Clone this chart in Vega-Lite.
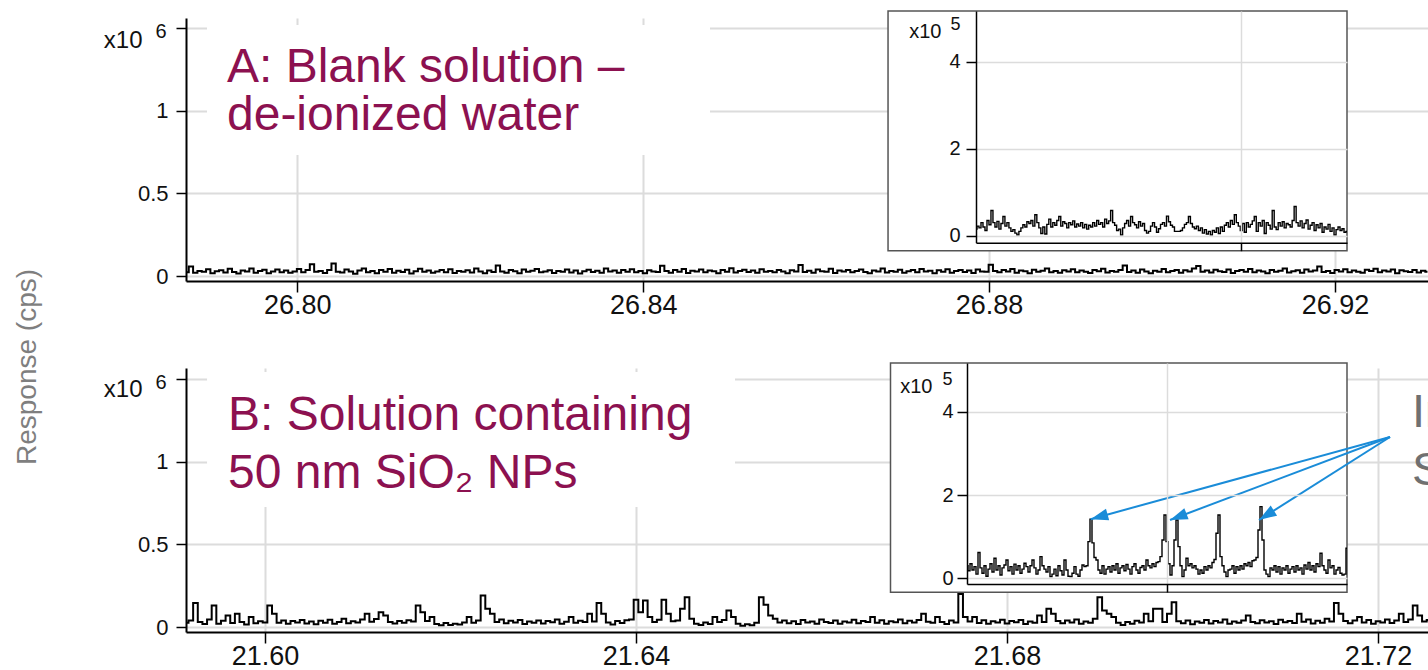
{
"$schema": "https://vega.github.io/schema/vega-lite/v6.json",
"width": 1428, "height": 670, "autosize": {"type": "none"}, "padding": 0, "background": "white",
"config": {"view": {"stroke": null}, "axis": {"domainColor": "black", "tickColor": "black", "gridColor": "#dcdcdc", "labelColor": "#111111", "labelOverlap": false, "labelFlush": false, "titleFontWeight": "normal"}},
"datasets": {
"a": [
{"t":26.7872,"r":0.022},{"t":26.7877,"r":0.058},{"t":26.7882,"r":0.019},{"t":26.7887,"r":0.031},{"t":26.7892,"r":0.026},{"t":26.7897,"r":0.041},{"t":26.7902,"r":0.017},{"t":26.7907,"r":0.029},{"t":26.7912,"r":0.035},{"t":26.7917,"r":0.021},{"t":26.7922,"r":0.044},{"t":26.7927,"r":0.024},
{"t":26.7932,"r":0.015},{"t":26.7937,"r":0.033},{"t":26.7942,"r":0.027},{"t":26.7947,"r":0.046},{"t":26.7952,"r":0.02},{"t":26.7957,"r":0.03},{"t":26.7962,"r":0.038},{"t":26.7967,"r":0.016},{"t":26.7972,"r":0.028},{"t":26.7977,"r":0.04},{"t":26.7982,"r":0.023},{"t":26.7987,"r":0.034},
{"t":26.7992,"r":0.019},{"t":26.7997,"r":0.027},{"t":26.8002,"r":0.043},{"t":26.8007,"r":0.022},{"t":26.8012,"r":0.036},{"t":26.8017,"r":0.071},{"t":26.8022,"r":0.025},{"t":26.8027,"r":0.031},{"t":26.8032,"r":0.018},{"t":26.8037,"r":0.037},{"t":26.8042,"r":0.075},{"t":26.8047,"r":0.026},
{"t":26.8052,"r":0.021},{"t":26.8057,"r":0.039},{"t":26.8062,"r":0.028},{"t":26.8067,"r":0.014},{"t":26.8072,"r":0.033},{"t":26.8077,"r":0.045},{"t":26.8082,"r":0.023},{"t":26.8087,"r":0.03},{"t":26.8092,"r":0.017},{"t":26.8097,"r":0.036},{"t":26.8102,"r":0.026},{"t":26.8107,"r":0.042},
{"t":26.8112,"r":0.02},{"t":26.8117,"r":0.032},{"t":26.8122,"r":0.024},{"t":26.8127,"r":0.038},{"t":26.8132,"r":0.015},{"t":26.8137,"r":0.029},{"t":26.8142,"r":0.044},{"t":26.8147,"r":0.025},{"t":26.8152,"r":0.034},{"t":26.8157,"r":0.019},{"t":26.8162,"r":0.027},{"t":26.8167,"r":0.037},
{"t":26.8172,"r":0.023},{"t":26.8177,"r":0.041},{"t":26.8182,"r":0.018},{"t":26.8187,"r":0.03},{"t":26.8192,"r":0.026},{"t":26.8197,"r":0.035},{"t":26.8202,"r":0.021},{"t":26.8207,"r":0.046},{"t":26.8212,"r":0.028},{"t":26.8217,"r":0.016},{"t":26.8222,"r":0.033},{"t":26.8227,"r":0.024},
{"t":26.8232,"r":0.064},{"t":26.8237,"r":0.027},{"t":26.8242,"r":0.02},{"t":26.8247,"r":0.036},{"t":26.8252,"r":0.029},{"t":26.8257,"r":0.017},{"t":26.8262,"r":0.039},{"t":26.8267,"r":0.025},{"t":26.8272,"r":0.032},{"t":26.8277,"r":0.043},{"t":26.8282,"r":0.022},{"t":26.8287,"r":0.028},
{"t":26.8292,"r":0.035},{"t":26.8297,"r":0.018},{"t":26.8302,"r":0.031},{"t":26.8307,"r":0.026},{"t":26.8312,"r":0.04},{"t":26.8317,"r":0.021},{"t":26.8322,"r":0.034},{"t":26.8327,"r":0.015},{"t":26.8332,"r":0.029},{"t":26.8337,"r":0.038},{"t":26.8342,"r":0.024},{"t":26.8347,"r":0.032},
{"t":26.8352,"r":0.02},{"t":26.8357,"r":0.045},{"t":26.8362,"r":0.027},{"t":26.8367,"r":0.033},{"t":26.8372,"r":0.019},{"t":26.8377,"r":0.036},{"t":26.8382,"r":0.025},{"t":26.8387,"r":0.041},{"t":26.8392,"r":0.022},{"t":26.8397,"r":0.03},{"t":26.8402,"r":0.016},{"t":26.8407,"r":0.035},
{"t":26.8412,"r":0.028},{"t":26.8417,"r":0.024},{"t":26.8422,"r":0.062},{"t":26.8427,"r":0.031},{"t":26.8432,"r":0.02},{"t":26.8437,"r":0.037},{"t":26.8442,"r":0.026},{"t":26.8447,"r":0.043},{"t":26.8452,"r":0.018},{"t":26.8457,"r":0.032},{"t":26.8462,"r":0.027},{"t":26.8467,"r":0.039},
{"t":26.8472,"r":0.023},{"t":26.8477,"r":0.034},{"t":26.8482,"r":0.029},{"t":26.8487,"r":0.017},{"t":26.8492,"r":0.036},{"t":26.8497,"r":0.025},{"t":26.8502,"r":0.047},{"t":26.8507,"r":0.021},{"t":26.8512,"r":0.03},{"t":26.8517,"r":0.038},{"t":26.8522,"r":0.024},{"t":26.8527,"r":0.033},
{"t":26.8532,"r":0.019},{"t":26.8537,"r":0.041},{"t":26.8542,"r":0.026},{"t":26.8547,"r":0.031},{"t":26.8552,"r":0.022},{"t":26.8557,"r":0.037},{"t":26.8562,"r":0.028},{"t":26.8567,"r":0.016},{"t":26.8572,"r":0.035},{"t":26.8577,"r":0.027},{"t":26.8582,"r":0.066},{"t":26.8587,"r":0.024},
{"t":26.8592,"r":0.032},{"t":26.8597,"r":0.02},{"t":26.8602,"r":0.039},{"t":26.8607,"r":0.029},{"t":26.8612,"r":0.025},{"t":26.8617,"r":0.044},{"t":26.8622,"r":0.018},{"t":26.8627,"r":0.033},{"t":26.8632,"r":0.027},{"t":26.8637,"r":0.036},{"t":26.8642,"r":0.022},{"t":26.8647,"r":0.03},
{"t":26.8652,"r":0.04},{"t":26.8657,"r":0.024},{"t":26.8662,"r":0.017},{"t":26.8667,"r":0.034},{"t":26.8672,"r":0.028},{"t":26.8677,"r":0.045},{"t":26.8682,"r":0.021},{"t":26.8687,"r":0.031},{"t":26.8692,"r":0.026},{"t":26.8697,"r":0.038},{"t":26.8702,"r":0.019},{"t":26.8707,"r":0.029},
{"t":26.8712,"r":0.036},{"t":26.8717,"r":0.023},{"t":26.8722,"r":0.042},{"t":26.8727,"r":0.027},{"t":26.8732,"r":0.032},{"t":26.8737,"r":0.016},{"t":26.8742,"r":0.035},{"t":26.8747,"r":0.025},{"t":26.8752,"r":0.041},{"t":26.8757,"r":0.02},{"t":26.8762,"r":0.03},{"t":26.8767,"r":0.037},
{"t":26.8772,"r":0.024},{"t":26.8777,"r":0.033},{"t":26.8782,"r":0.018},{"t":26.8787,"r":0.039},{"t":26.8792,"r":0.028},{"t":26.8797,"r":0.026},{"t":26.8802,"r":0.068},{"t":26.8807,"r":0.031},{"t":26.8812,"r":0.022},{"t":26.8817,"r":0.036},{"t":26.8822,"r":0.027},{"t":26.8827,"r":0.043},
{"t":26.8832,"r":0.02},{"t":26.8837,"r":0.034},{"t":26.8842,"r":0.029},{"t":26.8847,"r":0.017},{"t":26.8852,"r":0.038},{"t":26.8857,"r":0.025},{"t":26.8862,"r":0.032},{"t":26.8867,"r":0.046},{"t":26.8872,"r":0.023},{"t":26.8877,"r":0.03},{"t":26.8882,"r":0.019},{"t":26.8887,"r":0.035},
{"t":26.8892,"r":0.027},{"t":26.8897,"r":0.041},{"t":26.8902,"r":0.022},{"t":26.8907,"r":0.033},{"t":26.8912,"r":0.026},{"t":26.8917,"r":0.018},{"t":26.8922,"r":0.037},{"t":26.8927,"r":0.029},{"t":26.8932,"r":0.044},{"t":26.8937,"r":0.021},{"t":26.8942,"r":0.031},{"t":26.8947,"r":0.025},
{"t":26.8952,"r":0.036},{"t":26.8957,"r":0.063},{"t":26.8962,"r":0.024},{"t":26.8967,"r":0.034},{"t":26.8972,"r":0.02},{"t":26.8977,"r":0.039},{"t":26.8982,"r":0.028},{"t":26.8987,"r":0.016},{"t":26.8992,"r":0.032},{"t":26.8997,"r":0.026},{"t":26.9002,"r":0.042},{"t":26.9007,"r":0.023},
{"t":26.9012,"r":0.03},{"t":26.9017,"r":0.037},{"t":26.9022,"r":0.019},{"t":26.9027,"r":0.035},{"t":26.9032,"r":0.027},{"t":26.9037,"r":0.045},{"t":26.9042,"r":0.061},{"t":26.9047,"r":0.025},{"t":26.9052,"r":0.033},{"t":26.9057,"r":0.021},{"t":26.9062,"r":0.038},{"t":26.9067,"r":0.029},
{"t":26.9072,"r":0.024},{"t":26.9077,"r":0.04},{"t":26.9082,"r":0.018},{"t":26.9087,"r":0.031},{"t":26.9092,"r":0.036},{"t":26.9097,"r":0.026},{"t":26.9102,"r":0.043},{"t":26.9107,"r":0.022},{"t":26.9112,"r":0.034},{"t":26.9117,"r":0.028},{"t":26.9122,"r":0.017},{"t":26.9127,"r":0.037},
{"t":26.9132,"r":0.025},{"t":26.9137,"r":0.032},{"t":26.9142,"r":0.046},{"t":26.9147,"r":0.021},{"t":26.9152,"r":0.029},{"t":26.9157,"r":0.035},{"t":26.9162,"r":0.02},{"t":26.9167,"r":0.039},{"t":26.9172,"r":0.027},{"t":26.9177,"r":0.033},{"t":26.9182,"r":0.058},{"t":26.9187,"r":0.024},
{"t":26.9192,"r":0.03},{"t":26.9197,"r":0.018},{"t":26.9202,"r":0.036},{"t":26.9207,"r":0.028},{"t":26.9212,"r":0.041},{"t":26.9217,"r":0.023},{"t":26.9222,"r":0.034},{"t":26.9227,"r":0.026},{"t":26.9232,"r":0.019},{"t":26.9237,"r":0.038},{"t":26.9242,"r":0.031},{"t":26.9247,"r":0.044},
{"t":26.9252,"r":0.022},{"t":26.9257,"r":0.033},{"t":26.9262,"r":0.027},{"t":26.9267,"r":0.04},{"t":26.9272,"r":0.016},{"t":26.9277,"r":0.035},{"t":26.9282,"r":0.029},{"t":26.9287,"r":0.024},{"t":26.9292,"r":0.037},{"t":26.9297,"r":0.021},{"t":26.9302,"r":0.032},{"t":26.9307,"r":0.026}
],
"b": [
{"t":21.5915,"r":0.025},{"t":21.592,"r":0.04},{"t":21.5925,"r":0.145},{"t":21.593,"r":0.03},{"t":21.5935,"r":0.018},{"t":21.594,"r":0.045},{"t":21.5945,"r":0.13},{"t":21.595,"r":0.02},{"t":21.5955,"r":0.038},{"t":21.596,"r":0.07},
{"t":21.5965,"r":0.024},{"t":21.597,"r":0.08},{"t":21.5975,"r":0.03},{"t":21.598,"r":0.015},{"t":21.5985,"r":0.06},{"t":21.599,"r":0.022},{"t":21.5995,"r":0.035},{"t":21.6,"r":0.028},{"t":21.6005,"r":0.13},{"t":21.601,"r":0.08},
{"t":21.6015,"r":0.026},{"t":21.602,"r":0.04},{"t":21.6025,"r":0.019},{"t":21.603,"r":0.036},{"t":21.6035,"r":0.027},{"t":21.604,"r":0.042},{"t":21.6045,"r":0.021},{"t":21.605,"r":0.033},{"t":21.6055,"r":0.017},{"t":21.606,"r":0.038},
{"t":21.6065,"r":0.025},{"t":21.607,"r":0.044},{"t":21.6075,"r":0.02},{"t":21.608,"r":0.031},{"t":21.6085,"r":0.05},{"t":21.609,"r":0.023},{"t":21.6095,"r":0.035},{"t":21.61,"r":0.028},{"t":21.6105,"r":0.046},{"t":21.611,"r":0.08},
{"t":21.6115,"r":0.032},{"t":21.612,"r":0.048},{"t":21.6125,"r":0.09},{"t":21.613,"r":0.07},{"t":21.6135,"r":0.03},{"t":21.614,"r":0.021},{"t":21.6145,"r":0.037},{"t":21.615,"r":0.026},{"t":21.6155,"r":0.041},{"t":21.616,"r":0.033},
{"t":21.6165,"r":0.13},{"t":21.617,"r":0.09},{"t":21.6175,"r":0.036},{"t":21.618,"r":0.06},{"t":21.6185,"r":0.018},{"t":21.619,"r":0.01},{"t":21.6195,"r":0.024},{"t":21.62,"r":0.012},{"t":21.6205,"r":0.02},{"t":21.621,"r":0.015},
{"t":21.6215,"r":0.028},{"t":21.622,"r":0.06},{"t":21.6225,"r":0.025},{"t":21.623,"r":0.04},{"t":21.6235,"r":0.19},{"t":21.624,"r":0.11},{"t":21.6245,"r":0.08},{"t":21.625,"r":0.03},{"t":21.6255,"r":0.045},{"t":21.626,"r":0.022},
{"t":21.6265,"r":0.038},{"t":21.627,"r":0.027},{"t":21.6275,"r":0.043},{"t":21.628,"r":0.018},{"t":21.6285,"r":0.034},{"t":21.629,"r":0.026},{"t":21.6295,"r":0.04},{"t":21.63,"r":0.021},{"t":21.6305,"r":0.036},{"t":21.631,"r":0.029},
{"t":21.6315,"r":0.045},{"t":21.632,"r":0.02},{"t":21.6325,"r":0.032},{"t":21.633,"r":0.06},{"t":21.6335,"r":0.025},{"t":21.634,"r":0.038},{"t":21.6345,"r":0.03},{"t":21.635,"r":0.08},{"t":21.6355,"r":0.034},{"t":21.636,"r":0.145},
{"t":21.6365,"r":0.08},{"t":21.637,"r":0.028},{"t":21.6375,"r":0.015},{"t":21.638,"r":0.036},{"t":21.6385,"r":0.024},{"t":21.639,"r":0.041},{"t":21.6395,"r":0.045},{"t":21.64,"r":0.165},{"t":21.6405,"r":0.09},{"t":21.641,"r":0.16},
{"t":21.6415,"r":0.06},{"t":21.642,"r":0.03},{"t":21.6425,"r":0.044},{"t":21.643,"r":0.165},{"t":21.6435,"r":0.08},{"t":21.644,"r":0.035},{"t":21.6445,"r":0.04},{"t":21.645,"r":0.11},{"t":21.6455,"r":0.18},{"t":21.646,"r":0.05},
{"t":21.6465,"r":0.02},{"t":21.647,"r":0.012},{"t":21.6475,"r":0.027},{"t":21.648,"r":0.018},{"t":21.6485,"r":0.06},{"t":21.649,"r":0.03},{"t":21.6495,"r":0.042},{"t":21.65,"r":0.1},{"t":21.6505,"r":0.06},{"t":21.651,"r":0.02},
{"t":21.6515,"r":0.008},{"t":21.652,"r":0.016},{"t":21.6525,"r":0.01},{"t":21.653,"r":0.025},{"t":21.6535,"r":0.18},{"t":21.654,"r":0.135},{"t":21.6545,"r":0.07},{"t":21.655,"r":0.05},{"t":21.6555,"r":0.028},{"t":21.656,"r":0.04},
{"t":21.6565,"r":0.022},{"t":21.657,"r":0.035},{"t":21.6575,"r":0.018},{"t":21.658,"r":0.042},{"t":21.6585,"r":0.027},{"t":21.659,"r":0.033},{"t":21.6595,"r":0.02},{"t":21.66,"r":0.045},{"t":21.6605,"r":0.03},{"t":21.661,"r":0.024},
{"t":21.6615,"r":0.039},{"t":21.662,"r":0.019},{"t":21.6625,"r":0.034},{"t":21.663,"r":0.028},{"t":21.6635,"r":0.044},{"t":21.664,"r":0.023},{"t":21.6645,"r":0.037},{"t":21.665,"r":0.03},{"t":21.6655,"r":0.06},{"t":21.666,"r":0.026},
{"t":21.6665,"r":0.041},{"t":21.667,"r":0.02},{"t":21.6675,"r":0.035},{"t":21.668,"r":0.029},{"t":21.6685,"r":0.045},{"t":21.669,"r":0.022},{"t":21.6695,"r":0.038},{"t":21.67,"r":0.027},{"t":21.6705,"r":0.043},{"t":21.671,"r":0.08},
{"t":21.6715,"r":0.032},{"t":21.672,"r":0.025},{"t":21.6725,"r":0.06},{"t":21.673,"r":0.03},{"t":21.6735,"r":0.018},{"t":21.674,"r":0.04},{"t":21.6745,"r":0.028},{"t":21.675,"r":0.2},{"t":21.6755,"r":0.06},{"t":21.676,"r":0.033},
{"t":21.6765,"r":0.06},{"t":21.677,"r":0.024},{"t":21.6775,"r":0.041},{"t":21.678,"r":0.019},{"t":21.6785,"r":0.035},{"t":21.679,"r":0.027},{"t":21.6795,"r":0.044},{"t":21.68,"r":0.021},{"t":21.6805,"r":0.037},{"t":21.681,"r":0.029},
{"t":21.6815,"r":0.042},{"t":21.682,"r":0.018},{"t":21.6825,"r":0.034},{"t":21.683,"r":0.026},{"t":21.6835,"r":0.07},{"t":21.684,"r":0.03},{"t":21.6845,"r":0.11},{"t":21.685,"r":0.08},{"t":21.6855,"r":0.036},{"t":21.686,"r":0.022},
{"t":21.6865,"r":0.04},{"t":21.687,"r":0.028},{"t":21.6875,"r":0.045},{"t":21.688,"r":0.02},{"t":21.6885,"r":0.033},{"t":21.689,"r":0.026},{"t":21.6895,"r":0.05},{"t":21.69,"r":0.18},{"t":21.6905,"r":0.1},{"t":21.691,"r":0.08},
{"t":21.6915,"r":0.06},{"t":21.692,"r":0.025},{"t":21.6925,"r":0.012},{"t":21.693,"r":0.03},{"t":21.6935,"r":0.02},{"t":21.694,"r":0.038},{"t":21.6945,"r":0.027},{"t":21.695,"r":0.08},{"t":21.6955,"r":0.035},{"t":21.696,"r":0.11},
{"t":21.6965,"r":0.11},{"t":21.697,"r":0.03},{"t":21.6975,"r":0.08},{"t":21.698,"r":0.15},{"t":21.6985,"r":0.035},{"t":21.699,"r":0.022},{"t":21.6995,"r":0.04},{"t":21.7,"r":0.017},{"t":21.7005,"r":0.033},{"t":21.701,"r":0.026},
{"t":21.7015,"r":0.043},{"t":21.702,"r":0.021},{"t":21.7025,"r":0.036},{"t":21.703,"r":0.028},{"t":21.7035,"r":0.045},{"t":21.704,"r":0.019},{"t":21.7045,"r":0.034},{"t":21.705,"r":0.025},{"t":21.7055,"r":0.039},{"t":21.706,"r":0.07},
{"t":21.7065,"r":0.03},{"t":21.707,"r":0.022},{"t":21.7075,"r":0.041},{"t":21.708,"r":0.027},{"t":21.7085,"r":0.035},{"t":21.709,"r":0.018},{"t":21.7095,"r":0.044},{"t":21.71,"r":0.029},{"t":21.7105,"r":0.037},{"t":21.711,"r":0.024},
{"t":21.7115,"r":0.08},{"t":21.712,"r":0.032},{"t":21.7125,"r":0.045},{"t":21.713,"r":0.021},{"t":21.7135,"r":0.038},{"t":21.714,"r":0.026},{"t":21.7145,"r":0.05},{"t":21.715,"r":0.033},{"t":21.7155,"r":0.145},{"t":21.716,"r":0.08},
{"t":21.7165,"r":0.036},{"t":21.717,"r":0.023},{"t":21.7175,"r":0.04},{"t":21.718,"r":0.06},{"t":21.7185,"r":0.027},{"t":21.719,"r":0.043},{"t":21.7195,"r":0.019},{"t":21.72,"r":0.035},{"t":21.7205,"r":0.028},{"t":21.721,"r":0.046},
{"t":21.7215,"r":0.024},{"t":21.722,"r":0.039},{"t":21.7225,"r":0.08},{"t":21.723,"r":0.031},{"t":21.7235,"r":0.045},{"t":21.724,"r":0.13},{"t":21.7245,"r":0.07},{"t":21.725,"r":0.034},{"t":21.7255,"r":0.042}
],
"ia": [
{"t":0,"r":0.15},{"t":1,"r":0.22},{"t":2,"r":0.18},{"t":3,"r":0.3},{"t":4,"r":0.2},{"t":5,"r":0.12},{"t":6,"r":0.35},{"t":7,"r":0.25},{"t":8,"r":0.58},{"t":9,"r":0.3},
{"t":10,"r":0.2},{"t":11,"r":0.33},{"t":12,"r":0.15},{"t":13,"r":0.28},{"t":14,"r":0.44},{"t":15,"r":0.22},{"t":16,"r":0.3},{"t":17,"r":0.18},{"t":18,"r":0.1},{"t":19,"r":0.14},
{"t":20,"r":0.06},{"t":21,"r":0.02},{"t":22,"r":0.1},{"t":23,"r":0.18},{"t":24,"r":0.25},{"t":25,"r":0.2},{"t":26,"r":0.32},{"t":27,"r":0.28},{"t":28,"r":0.35},{"t":29,"r":0.22},
{"t":30,"r":0.48},{"t":31,"r":0.3},{"t":32,"r":0.18},{"t":33,"r":0.05},{"t":34,"r":0.2},{"t":35,"r":0.04},{"t":36,"r":0.26},{"t":37,"r":0.38},{"t":38,"r":0.2},{"t":39,"r":0.3},
{"t":40,"r":0.24},{"t":41,"r":0.35},{"t":42,"r":0.44},{"t":43,"r":0.22},{"t":44,"r":0.32},{"t":45,"r":0.28},{"t":46,"r":0.18},{"t":47,"r":0.3},{"t":48,"r":0.25},{"t":49,"r":0.34},
{"t":50,"r":0.2},{"t":51,"r":0.27},{"t":52,"r":0.22},{"t":53,"r":0.3},{"t":54,"r":0.18},{"t":55,"r":0.26},{"t":56,"r":0.15},{"t":57,"r":0.24},{"t":58,"r":0.2},{"t":59,"r":0.3},
{"t":60,"r":0.22},{"t":61,"r":0.35},{"t":62,"r":0.26},{"t":63,"r":0.3},{"t":64,"r":0.2},{"t":65,"r":0.38},{"t":66,"r":0.28},{"t":67,"r":0.34},{"t":68,"r":0.58},{"t":69,"r":0.3},
{"t":70,"r":0.24},{"t":71,"r":0.12},{"t":72,"r":0.15},{"t":73,"r":0.02},{"t":74,"r":0.18},{"t":75,"r":0.28},{"t":76,"r":0.35},{"t":77,"r":0.22},{"t":78,"r":0.44},{"t":79,"r":0.3},
{"t":80,"r":0.25},{"t":81,"r":0.18},{"t":82,"r":0.32},{"t":83,"r":0.22},{"t":84,"r":0.28},{"t":85,"r":0.12},{"t":86,"r":0.06},{"t":87,"r":0.1},{"t":88,"r":0.22},{"t":89,"r":0.3},
{"t":90,"r":0.2},{"t":91,"r":0.08},{"t":92,"r":0.16},{"t":93,"r":0.26},{"t":94,"r":0.3},{"t":95,"r":0.22},{"t":96,"r":0.45},{"t":97,"r":0.32},{"t":98,"r":0.24},{"t":99,"r":0.2},
{"t":100,"r":0.1},{"t":101,"r":0.1},{"t":102,"r":0.1},{"t":103,"r":0.12},{"t":104,"r":0.18},{"t":105,"r":0.26},{"t":106,"r":0.3},{"t":107,"r":0.44},{"t":108,"r":0.28},{"t":109,"r":0.2},
{"t":110,"r":0.16},{"t":111,"r":0.22},{"t":112,"r":0.12},{"t":113,"r":0.18},{"t":114,"r":0.06},{"t":115,"r":0.14},{"t":116,"r":0.04},{"t":117,"r":0.1},{"t":118,"r":0.02},{"t":119,"r":0.12},
{"t":120,"r":0.08},{"t":121,"r":0.18},{"t":122,"r":0.05},{"t":123,"r":0.2},{"t":124,"r":0.1},{"t":125,"r":0.24},{"t":126,"r":0.3},{"t":127,"r":0.2},{"t":128,"r":0.35},{"t":129,"r":0.26},
{"t":130,"r":0.48},{"t":131,"r":0.3},{"t":132,"r":0.22},{"t":133,"r":0.12},{"t":134,"r":0.28},{"t":135,"r":0.08},{"t":136,"r":0.3},{"t":137,"r":0.2},{"t":138,"r":0.26},{"t":139,"r":0.34},
{"t":140,"r":0.44},{"t":141,"r":0.1},{"t":142,"r":0.3},{"t":143,"r":0.22},{"t":144,"r":0.35},{"t":145,"r":0.05},{"t":146,"r":0.3},{"t":147,"r":0.24},{"t":148,"r":0.15},{"t":149,"r":0.58},
{"t":150,"r":0.2},{"t":151,"r":0.14},{"t":152,"r":0.3},{"t":153,"r":0.22},{"t":154,"r":0.32},{"t":155,"r":0.18},{"t":156,"r":0.28},{"t":157,"r":0.25},{"t":158,"r":0.2},{"t":159,"r":0.35},
{"t":160,"r":0.67},{"t":161,"r":0.3},{"t":162,"r":0.22},{"t":163,"r":0.34},{"t":164,"r":0.18},{"t":165,"r":0.28},{"t":166,"r":0.36},{"t":167,"r":0.15},{"t":168,"r":0.24},{"t":169,"r":0.3},
{"t":170,"r":0.12},{"t":171,"r":0.25},{"t":172,"r":0.18},{"t":173,"r":0.28},{"t":174,"r":0.08},{"t":175,"r":0.2},{"t":176,"r":0.15},{"t":177,"r":0.26},{"t":178,"r":0.1},{"t":179,"r":0.18},
{"t":180,"r":0.02},{"t":181,"r":0.14},{"t":182,"r":0.2},{"t":183,"r":0.12},{"t":184,"r":0.16},{"t":185,"r":0.08},{"t":186,"r":0.1}
],
"ib": [
{"t":0,"r":0.3},{"t":1,"r":0.18},{"t":2,"r":0.35},{"t":3,"r":0.2},{"t":4,"r":0.28},{"t":5,"r":0.1},{"t":6,"r":0.62},{"t":7,"r":0.25},{"t":8,"r":0.12},{"t":9,"r":0.3},
{"t":10,"r":0.05},{"t":11,"r":0.22},{"t":12,"r":0.35},{"t":13,"r":0.15},{"t":14,"r":0.48},{"t":15,"r":0.2},{"t":16,"r":0.3},{"t":17,"r":0.08},{"t":18,"r":0.25},{"t":19,"r":0.32},
{"t":20,"r":0.44},{"t":21,"r":0.18},{"t":22,"r":0.28},{"t":23,"r":0.1},{"t":24,"r":0.34},{"t":25,"r":0.2},{"t":26,"r":0.3},{"t":27,"r":0.12},{"t":28,"r":0.22},{"t":29,"r":0.36},
{"t":30,"r":0.28},{"t":31,"r":0.15},{"t":32,"r":0.3},{"t":33,"r":0.44},{"t":34,"r":0.25},{"t":35,"r":0.1},{"t":36,"r":0.2},{"t":37,"r":0.52},{"t":38,"r":0.3},{"t":39,"r":0.22},
{"t":40,"r":0.15},{"t":41,"r":0.28},{"t":42,"r":0.04},{"t":43,"r":0.1},{"t":44,"r":0.22},{"t":45,"r":0.06},{"t":46,"r":0.3},{"t":47,"r":0.18},{"t":48,"r":0.08},{"t":49,"r":0.44},
{"t":50,"r":0.2},{"t":51,"r":0.05},{"t":52,"r":0.04},{"t":53,"r":0.12},{"t":54,"r":0.28},{"t":55,"r":0.1},{"t":56,"r":0.05},{"t":57,"r":0.2},{"t":58,"r":0.32},{"t":59,"r":0.28},
{"t":60,"r":0.3},{"t":61,"r":0.88},{"t":62,"r":1.42},{"t":63,"r":0.85},{"t":64,"r":0.5},{"t":65,"r":0.44},{"t":66,"r":0.2},{"t":67,"r":0.12},{"t":68,"r":0.3},{"t":69,"r":0.1},
{"t":70,"r":0.22},{"t":71,"r":0.28},{"t":72,"r":0.15},{"t":73,"r":0.3},{"t":74,"r":0.2},{"t":75,"r":0.35},{"t":76,"r":0.12},{"t":77,"r":0.25},{"t":78,"r":0.3},{"t":79,"r":0.18},
{"t":80,"r":0.33},{"t":81,"r":0.22},{"t":82,"r":0.1},{"t":83,"r":0.28},{"t":84,"r":0.35},{"t":85,"r":0.2},{"t":86,"r":0.12},{"t":87,"r":0.26},{"t":88,"r":0.3},{"t":89,"r":0.2},
{"t":90,"r":0.44},{"t":91,"r":0.3},{"t":92,"r":0.25},{"t":93,"r":0.35},{"t":94,"r":0.28},{"t":95,"r":0.38},{"t":96,"r":0.4},{"t":97,"r":0.52},{"t":98,"r":0.92},{"t":99,"r":1.52},
{"t":100,"r":0.88},{"t":101,"r":0.35},{"t":102,"r":0.08},{"t":103,"r":0.3},{"t":104,"r":0.92},{"t":105,"r":1.4},{"t":106,"r":0.76},{"t":107,"r":0.3},{"t":108,"r":0.04},{"t":109,"r":0.2},
{"t":110,"r":0.48},{"t":111,"r":0.3},{"t":112,"r":0.35},{"t":113,"r":0.25},{"t":114,"r":0.3},{"t":115,"r":0.22},{"t":116,"r":0.1},{"t":117,"r":0.2},{"t":118,"r":0.12},{"t":119,"r":0.28},
{"t":120,"r":0.2},{"t":121,"r":0.3},{"t":122,"r":0.25},{"t":123,"r":0.38},{"t":124,"r":0.45},{"t":125,"r":1.08},{"t":126,"r":1.52},{"t":127,"r":0.52},{"t":128,"r":0.3},{"t":129,"r":0.15},
{"t":130,"r":0.04},{"t":131,"r":0.2},{"t":132,"r":0.22},{"t":133,"r":0.3},{"t":134,"r":0.12},{"t":135,"r":0.28},{"t":136,"r":0.2},{"t":137,"r":0.3},{"t":138,"r":0.22},{"t":139,"r":0.35},
{"t":140,"r":0.3},{"t":141,"r":0.38},{"t":142,"r":0.28},{"t":143,"r":0.42},{"t":144,"r":0.44},{"t":145,"r":0.5},{"t":146,"r":1.16},{"t":147,"r":1.72},{"t":148,"r":0.92},{"t":149,"r":0.2},
{"t":150,"r":0.1},{"t":151,"r":0.04},{"t":152,"r":0.25},{"t":153,"r":0.2},{"t":154,"r":0.3},{"t":155,"r":0.15},{"t":156,"r":0.28},{"t":157,"r":0.1},{"t":158,"r":0.25},{"t":159,"r":0.2},
{"t":160,"r":0.3},{"t":161,"r":0.12},{"t":162,"r":0.22},{"t":163,"r":0.28},{"t":164,"r":0.15},{"t":165,"r":0.3},{"t":166,"r":0.2},{"t":167,"r":0.25},{"t":168,"r":0.1},{"t":169,"r":0.32},
{"t":170,"r":0.22},{"t":171,"r":0.38},{"t":172,"r":0.2},{"t":173,"r":0.3},{"t":174,"r":0.15},{"t":175,"r":0.35},{"t":176,"r":0.28},{"t":177,"r":0.6},{"t":178,"r":0.3},{"t":179,"r":0.2},
{"t":180,"r":0.12},{"t":181,"r":0.44},{"t":182,"r":0.25},{"t":183,"r":0.3},{"t":184,"r":0.1},{"t":185,"r":0.2},{"t":186,"r":0.26},{"t":187,"r":0.12},{"t":188,"r":0.08},{"t":189,"r":0.1},
{"t":190,"r":0.72}
],
"arrows": [{"t":61.8,"r":1.42},{"t":101.5,"r":1.4},{"t":146,"r":1.4}]
},
"layer": [
{"layer": [
 {"data": {"name": "a"}, "mark": {"type": "line", "interpolate": "step", "color": "black", "strokeWidth": 2},
  "encoding": {
   "x": {"field": "t", "type": "quantitative", "scale": {"domain": [26.78713, 26.93076], "range": [186, 1428], "nice": false, "zero": false},
         "axis": {"orient": "top", "offset": -281, "values": [26.8, 26.84, 26.88, 26.92], "format": ".2f", "grid": true, "gridWidth": 2, "domainWidth": 2, "tickSize": -11, "tickWidth": 1.5, "labelFont": "Liberation Sans, Arial, sans-serif", "labelFontSize": 27, "labelBaseline": "top", "labelPadding": 0, "title": null}},
   "y": {"field": "r", "type": "quantitative", "scale": {"domain": [-0.0302, 1.5605], "range": [281, 18], "nice": false, "zero": false},
         "axis": {"orient": "left", "offset": -186, "values": [0, 0.5, 1, 1.5], "format": "~g", "labelExpr": "datum.value == 1.5 ? 'x10' : datum.label", "labelFont": "Liberation Sans, Arial, sans-serif", "labelFontSize": {"condition": {"test": "datum.value == 1.5", "value": 24}, "value": 22}, "labelOffset": {"condition": {"test": "datum.value == 1.5", "value": 12}, "value": 0}, "labelPadding": {"condition": {"test": "datum.value == 1.5", "value": 34}, "value": 8}, "grid": true, "gridWidth": 2, "domainWidth": 2, "tickSize": 10, "tickWidth": 1.5, "title": null}}
  }},
 {"data": {"values": [{}]}, "mark": {"type": "rect", "fill": "white"},
  "encoding": {"x": {"datum": 26.78956, "type": "quantitative"}, "x2": {"datum": 26.84773}, "y": {"datum": 1.5181, "type": "quantitative"}, "y2": {"datum": 0.7318}}},
 {"data": {"values": [{}]}, "mark": {"type": "text", "text": ["A: Blank solution –", "de-ionized water"], "align": "left", "baseline": "alphabetic", "font": "Liberation Sans, Arial, sans-serif", "fontSize": 48, "lineHeight": 48.3, "color": "#8c1150"},
  "encoding": {"x": {"datum": 26.79187, "type": "quantitative"}, "y": {"datum": 1.1752, "type": "quantitative"}}},
 {"data": {"values": [{}]}, "mark": {"type": "text", "text": "6", "align": "center", "baseline": "middle", "font": "Liberation Sans, Arial, sans-serif", "fontSize": 20, "color": "#111111"},
  "encoding": {"x": {"datum": 26.78424, "type": "quantitative"}, "y": {"datum": 1.4758, "type": "quantitative"}}},
 {"data": {"values": [{}]}, "mark": {"type": "text", "text": "Response (cps)", "angle": 270, "align": "center", "baseline": "middle", "font": "Liberation Sans, Arial, sans-serif", "fontSize": 28, "color": "#7f7f7f"},
  "encoding": {"x": {"datum": 26.76886, "type": "quantitative"}, "y": {"datum": -0.5504, "type": "quantitative"}}}
]},
{"layer": [
 {"data": {"values": [{}]}, "mark": {"type": "rect", "fill": "white", "stroke": "#555555", "strokeWidth": 1.5},
  "encoding": {"x": {"datum": -44.1, "type": "quantitative"}, "x2": {"datum": 186}, "y": {"datum": 5.166, "type": "quantitative"}, "y2": {"datum": -0.345}}},
 {"data": {"name": "ia"}, "mark": {"type": "line", "interpolate": "step", "color": "black", "strokeWidth": 1.4},
  "encoding": {
   "x": {"field": "t", "type": "quantitative", "scale": {"domain": [0, 186], "range": [976, 1347], "nice": false, "zero": false},
         "axis": {"orient": "top", "offset": -242.7, "values": [133], "labels": false, "grid": true, "gridWidth": 1.5, "tickSize": -8, "tickWidth": 1.5, "domainWidth": 1.5, "title": null, "zindex": 1}},
   "y": {"field": "r", "type": "quantitative", "scale": {"domain": [-0.161, 5.166], "range": [242.7, 11], "nice": false, "zero": false},
         "axis": {"orient": "left", "offset": -976, "values": [0, 2, 4, 5], "format": "~g", "labelExpr": "datum.value == 5 ? 'x10' : datum.label", "labelFont": "Liberation Sans, Arial, sans-serif", "labelFontSize": 20, "labelOffset": {"condition": {"test": "datum.value == 5", "value": 13}, "value": 0}, "labelPadding": {"condition": {"test": "datum.value == 5", "value": 25}, "value": 6}, "tickSize": 10, "tickWidth": 1.5, "tickOpacity": {"condition": {"test": "datum.value == 5", "value": 0}, "value": 1}, "grid": true, "gridWidth": 1.5, "gridOpacity": {"condition": {"test": "datum.value == 5", "value": 0}, "value": 1}, "domainWidth": 1.5, "title": null, "zindex": 1}}
  }},
 {"data": {"values": [{}]}, "mark": {"type": "text", "text": "5", "align": "center", "baseline": "middle", "font": "Liberation Sans, Arial, sans-serif", "fontSize": 18, "color": "#111111"},
  "encoding": {"x": {"datum": -10.28, "type": "quantitative"}, "y": {"datum": 4.844, "type": "quantitative"}}}
]},
{"layer": [
 {"data": {"name": "b"}, "mark": {"type": "line", "interpolate": "step", "color": "black", "strokeWidth": 2},
  "encoding": {
   "x": {"field": "t", "type": "quantitative", "scale": {"domain": [21.59148, 21.72539], "range": [186, 1428], "nice": false, "zero": false},
         "axis": {"orient": "top", "offset": -632, "values": [21.6, 21.64, 21.68, 21.72], "format": ".2f", "grid": true, "gridWidth": 2, "domainWidth": 2, "tickSize": -11, "tickWidth": 1.5, "labelFont": "Liberation Sans, Arial, sans-serif", "labelFontSize": 27, "labelBaseline": "top", "labelPadding": 0, "title": null}},
   "y": {"field": "r", "type": "quantitative", "scale": {"domain": [-0.0302, 1.5665], "range": [632, 368], "nice": false, "zero": false},
         "axis": {"orient": "left", "offset": -186, "values": [0, 0.5, 1, 1.5], "format": "~g", "labelExpr": "datum.value == 1.5 ? 'x10' : datum.label", "labelFont": "Liberation Sans, Arial, sans-serif", "labelFontSize": {"condition": {"test": "datum.value == 1.5", "value": 24}, "value": 22}, "labelOffset": {"condition": {"test": "datum.value == 1.5", "value": 11}, "value": 0}, "labelPadding": {"condition": {"test": "datum.value == 1.5", "value": 34}, "value": 8}, "grid": true, "gridWidth": 2, "domainWidth": 2, "tickSize": 10, "tickWidth": 1.5, "title": null}}
  }},
 {"data": {"values": [{}]}, "mark": {"type": "rect", "fill": "white"},
  "encoding": {"x": {"datum": 21.59375, "type": "quantitative"}, "x2": {"datum": 21.65067}, "y": {"datum": 1.5423, "type": "quantitative"}, "y2": {"datum": 0.7258}}},
 {"data": {"values": [{}]}, "mark": {"type": "text", "text": ["B: Solution containing", "50 nm SiO₂ NPs"], "align": "left", "baseline": "alphabetic", "font": "Liberation Sans, Arial, sans-serif", "fontSize": 48, "lineHeight": 58.3, "color": "#8c1150"},
  "encoding": {"x": {"datum": 21.59601, "type": "quantitative"}, "y": {"datum": 1.1915, "type": "quantitative"}}},
 {"data": {"values": [{}]}, "mark": {"type": "text", "text": "6", "align": "center", "baseline": "middle", "font": "Liberation Sans, Arial, sans-serif", "fontSize": 20, "color": "#111111"},
  "encoding": {"x": {"datum": 21.58879, "type": "quantitative"}, "y": {"datum": 1.4758, "type": "quantitative"}}},
 {"data": {"values": [{}]}, "mark": {"type": "text", "text": ["Individual", "SiO₂ NPs"], "align": "left", "baseline": "alphabetic", "font": "Liberation Sans, Arial, sans-serif", "fontSize": 47, "lineHeight": 58.3, "color": "#707070"},
  "encoding": {"x": {"datum": 21.72367, "type": "quantitative"}, "y": {"datum": 1.2115, "type": "quantitative"}}}
]},
{"layer": [
 {"data": {"values": [{}]}, "mark": {"type": "rect", "fill": "white", "stroke": "#555555", "strokeWidth": 1.5},
  "encoding": {"x": {"datum": -38.25, "type": "quantitative"}, "x2": {"datum": 190}, "y": {"datum": 5.17, "type": "quantitative"}, "y2": {"datum": -0.336}}},
 {"data": {"name": "ib"}, "mark": {"type": "line", "interpolate": "step", "color": "black", "strokeWidth": 1.4},
  "encoding": {
   "x": {"field": "t", "type": "quantitative", "scale": {"domain": [0, 190], "range": [967, 1347], "nice": false, "zero": false},
         "axis": {"orient": "top", "offset": -584, "values": [100], "labels": false, "grid": true, "gridWidth": 1.5, "tickSize": -8, "tickWidth": 1.5, "domainWidth": 1.5, "title": null, "zindex": 1}},
   "y": {"field": "r", "type": "quantitative", "scale": {"domain": [-0.137, 5.17], "range": [584, 363], "nice": false, "zero": false},
         "axis": {"orient": "left", "offset": -967, "values": [0, 2, 4, 5], "format": "~g", "labelExpr": "datum.value == 5 ? 'x10' : datum.label", "labelFont": "Liberation Sans, Arial, sans-serif", "labelFontSize": 20, "labelOffset": {"condition": {"test": "datum.value == 5", "value": 16}, "value": 0}, "labelPadding": {"condition": {"test": "datum.value == 5", "value": 25}, "value": 4}, "tickSize": 10, "tickWidth": 1.5, "tickOpacity": {"condition": {"test": "datum.value == 5", "value": 0}, "value": 1}, "grid": true, "gridWidth": 1.5, "gridOpacity": {"condition": {"test": "datum.value == 5", "value": 0}, "value": 1}, "domainWidth": 1.5, "title": null, "zindex": 1}}
  }},
 {"data": {"values": [{}]}, "mark": {"type": "text", "text": "5", "align": "center", "baseline": "middle", "font": "Liberation Sans, Arial, sans-serif", "fontSize": 18, "color": "#111111"},
  "encoding": {"x": {"datum": -9.75, "type": "quantitative"}, "y": {"datum": 4.761, "type": "quantitative"}}},
 {"data": {"name": "arrows"}, "mark": {"type": "rule", "color": "#1a8cd8", "strokeWidth": 2},
  "encoding": {"x": {"field": "t", "type": "quantitative"}, "y": {"field": "r", "type": "quantitative"}, "x2": {"datum": 211.5}, "y2": {"datum": 3.393}}},
 {"data": {"values": [{}]}, "mark": {"type": "point", "shape": "M0,0L0.34,1L-0.34,1Z", "size": 1240, "filled": true, "opacity": 1, "color": "#1a8cd8", "angle": 254.6},
  "encoding": {"x": {"datum": 61.8, "type": "quantitative"}, "y": {"datum": 1.42, "type": "quantitative"}}},
 {"data": {"values": [{}]}, "mark": {"type": "point", "shape": "M0,0L0.34,1L-0.34,1Z", "size": 1240, "filled": true, "opacity": 1, "color": "#1a8cd8", "angle": 249.3},
  "encoding": {"x": {"datum": 101.5, "type": "quantitative"}, "y": {"datum": 1.4, "type": "quantitative"}}},
 {"data": {"values": [{}]}, "mark": {"type": "point", "shape": "M0,0L0.34,1L-0.34,1Z", "size": 1240, "filled": true, "opacity": 1, "color": "#1a8cd8", "angle": 237.7},
  "encoding": {"x": {"datum": 146, "type": "quantitative"}, "y": {"datum": 1.4, "type": "quantitative"}}}
]}
],
"resolve": {"scale": {"x": "independent", "y": "independent"}}
}
